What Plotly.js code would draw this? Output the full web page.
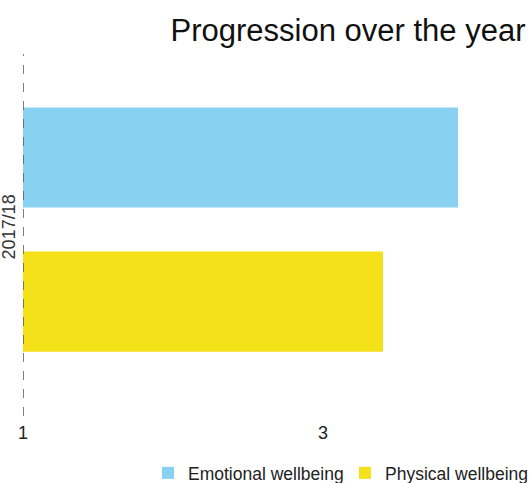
<!DOCTYPE html>
<html>
<head>
<meta charset="utf-8">
<script src="https://cdn.plot.ly/plotly-3.0.1.min.js"></script>
<style>html,body{margin:0;padding:0;background:#fff;}#chart{width:530px;height:483px;}</style>
</head>
<body>
<div id="chart"></div>
<script>
const categories = ["2017/18"];
const seriesNames = ["Emotional wellbeing", "Physical wellbeing"];
const emotional = [3.9];
const physical = [3.4];
const xTicks = [1, 3, 5];
const xTickLabels = ["1", "3", "5"];
const colors = ["#89d1f1", "#f5e11a"];

const traces = [
  {type: "bar", orientation: "h", name: seriesNames[0], y: categories, x: emotional, marker: {color: colors[0]}},
  {type: "bar", orientation: "h", name: seriesNames[1], y: categories, x: physical, marker: {color: colors[1]}}
];

const layout = {
  width: 530, height: 483,
  margin: {l: 23, r: 0, t: 54, b: 67, pad: 0},
  paper_bgcolor: "#fff", plot_bgcolor: "#fff",
  font: {family: "Liberation Sans, Arial, sans-serif", color: "#222", size: 18},
  title: {text: "Progression over the year", font: {size: 31, color: "#111"},
          xref: "container", x: 348/530, xanchor: "center", yref: "container", y: 1 - 30/483, yanchor: "middle"},
  barmode: "group", bargap: 0.204, bargroupgap: 0.305,
  xaxis: {range: [1, 1 + 507/150], tickvals: xTicks, ticktext: xTickLabels, showgrid: false, zeroline: false,
          showline: false, ticks: "", tickfont: {size: 18, color: "#222"}, ticklabelstandoff: 4},
  yaxis: {range: [0.515, -0.485], tickangle: -90, showgrid: false, zeroline: false, showline: false, ticks: "",
          tickfont: {size: 18, color: "#333"}, ticklabelstandoff: 3},
  showlegend: true,
  legend: {orientation: "h", xref: "container", yref: "container", x: 148/530, xanchor: "left", y: 1 - 473/483, yanchor: "middle",
           font: {size: 17.5, color: "#222"}, traceorder: "normal", entrywidth: 152, entrywidthmode: "pixels"},
  shapes: [{type: "line", xref: "x", x0: 1, x1: 1, yref: "paper", y0: 0, y1: 1,
            line: {color: "#555", width: 1.5, dash: "dash"}}]
};

Plotly.newPlot("chart", traces, layout, {displayModeBar: false, staticPlot: true});
</script>
</body>
</html>
